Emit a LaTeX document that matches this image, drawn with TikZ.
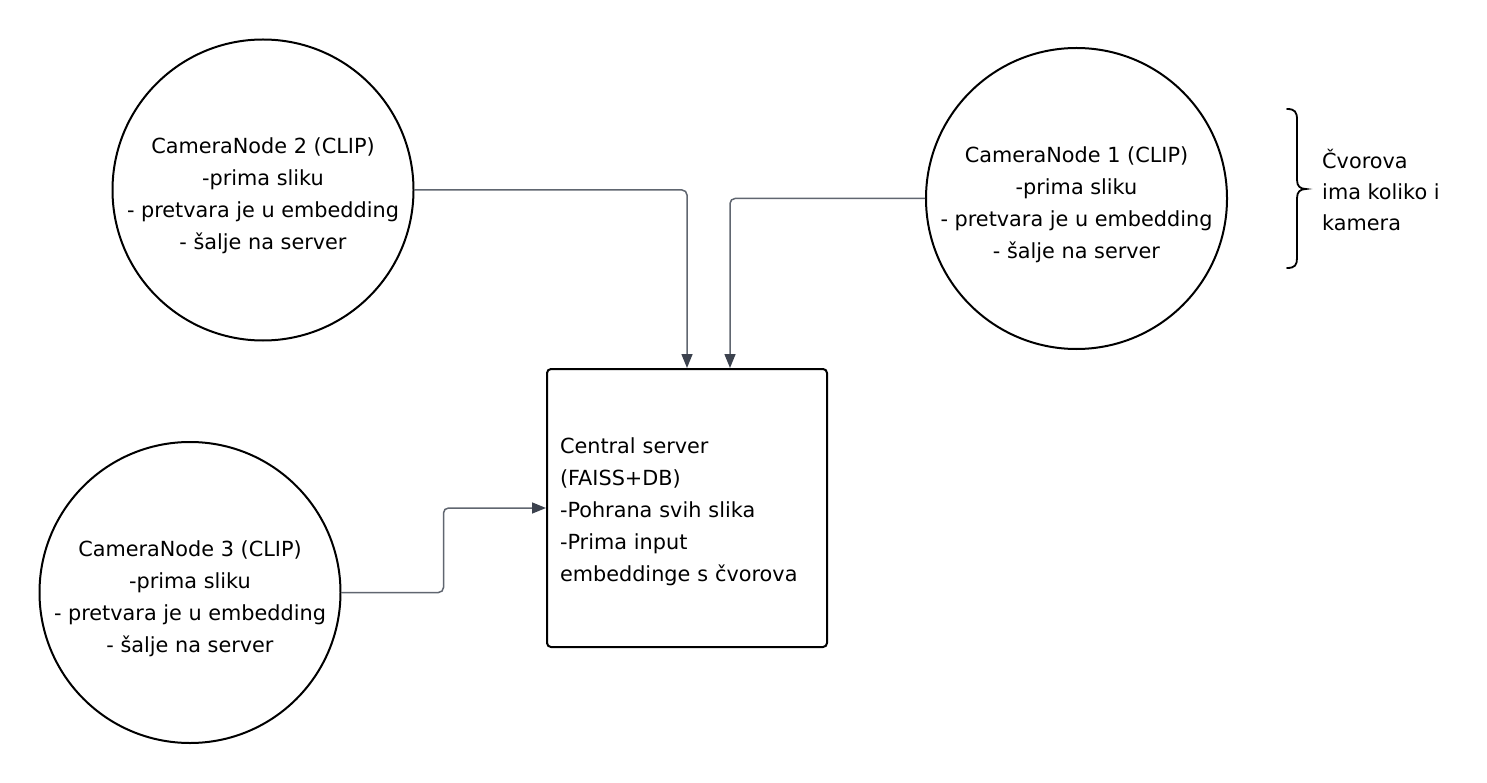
\documentclass[tikz,border=0pt]{standalone}
\usepackage{fontspec}
\setmainfont{DejaVu Sans}
\usetikzlibrary{arrows.meta}
\definecolor{connc}{RGB}{96,102,112}
\definecolor{tipc}{RGB}{60,66,78}
\begin{document}
\begin{tikzpicture}[x=1pt,y=-1pt,
  txt/.style={font=\fontsize{20.8}{32}\selectfont, text=black},
  cam/.style={circle, draw=black, line width=2pt, minimum size=301pt, inner sep=-12pt, align=center, txt, text height=124pt},
  srv/.style={rectangle, draw=black, line width=2pt, rounded corners=4pt, minimum height=278pt, text width=254pt, inner xsep=13pt, align=left, txt, text height=23pt},
  conn/.style={draw=connc, line width=1.5pt, rounded corners=5pt, -{Triangle[length=14pt,width=11pt,color=tipc]}},
]
\fill[white] (0,0) rectangle (1487,783);
\useasboundingbox (0,0) rectangle (1487,783);

\node[cam] (c2) at (263,190) {CameraNode 2 (CLIP)\\-prima sliku\\- pretvara je u embedding\\- šalje na server};
\node[cam] (c1) at (1076.5,198.5) {CameraNode 1 (CLIP)\\-prima sliku\\- pretvara je u embedding\\- šalje na server};
\node[cam] (c3) at (190,592.5) {CameraNode 3 (CLIP)\\-prima sliku\\- pretvara je u embedding\\- šalje na server};
\node[srv] (srv) at (687,508) {Central server\\(FAISS+DB)\\-Pohrana svih slika\\-Prima input\\embeddinge s čvorova};
\node[txt, align=left, anchor=west, inner sep=0pt, font=\fontsize{20.8}{31}\selectfont] (note) at (1322,190) {Čvorova\\ima koliko i\\kamera};

\draw[conn] (c2.east) -| (srv.north);
\draw[conn] (c1.west) -| ([xshift=43pt]srv.north);
\draw[conn] (c3.east) -- ++(102,0) |- (srv.west);

\draw[line width=1.8pt, black, line cap=round]
  (1287,109) .. controls (1295,109) and (1297,112) .. (1297,120)
  -- (1297,180) .. controls (1297,186) and (1300,189) .. (1306,189)
  .. controls (1300,189) and (1297,192) .. (1297,198)
  -- (1297,258) .. controls (1297,265) and (1295,268) .. (1287,268);
\end{tikzpicture}
\end{document}
